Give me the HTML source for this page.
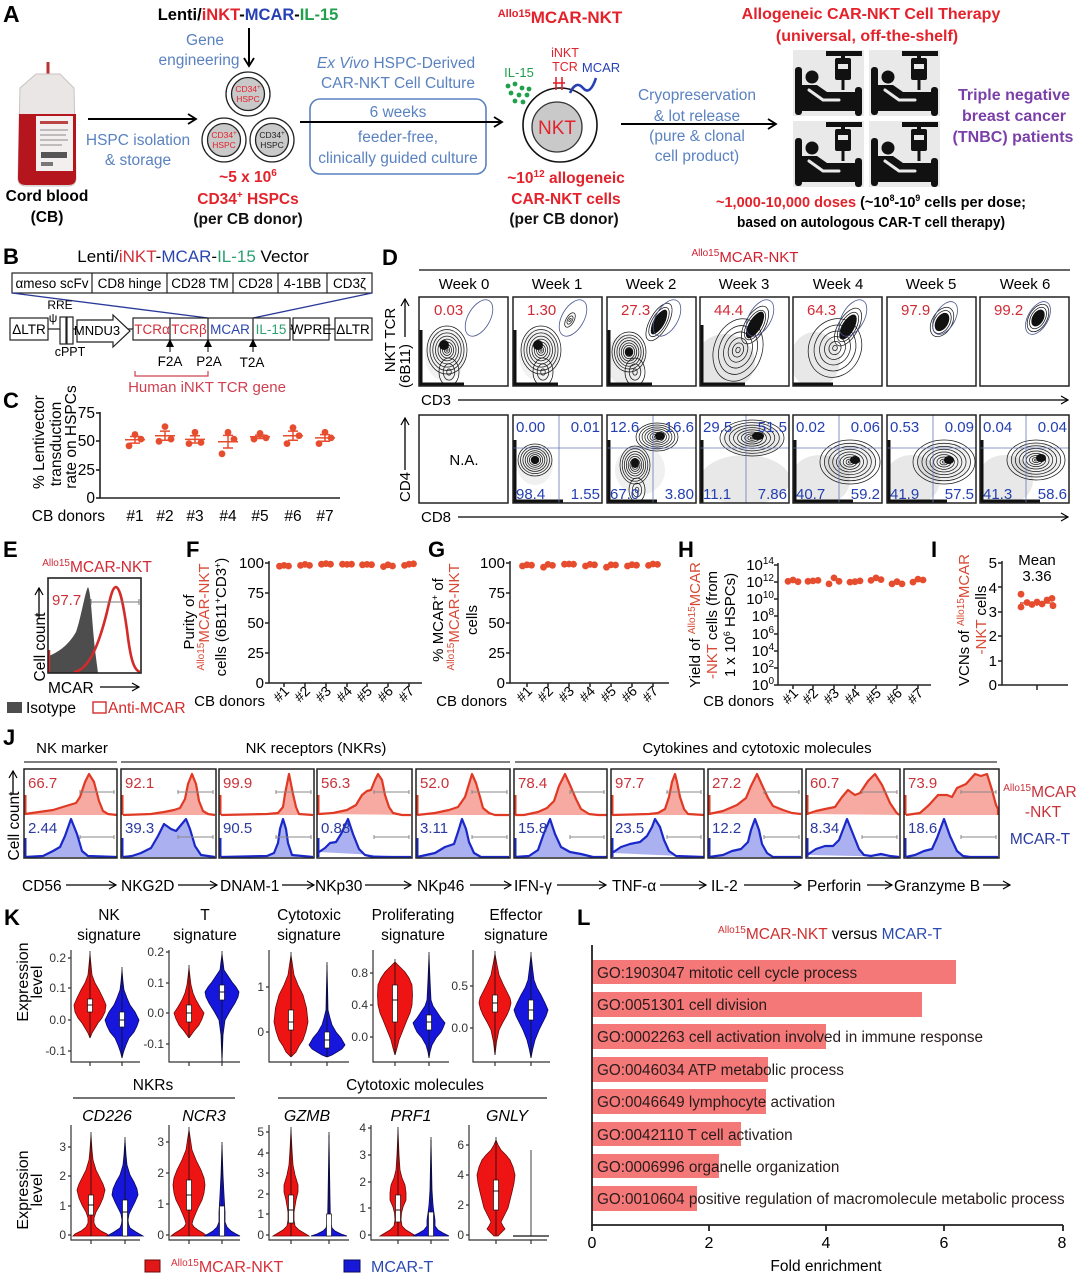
<!DOCTYPE html>
<html><head><meta charset="utf-8"><title>Figure</title>
<style>
html,body{margin:0;padding:0;background:#fff;width:1080px;height:1274px;overflow:hidden}
svg{display:block}
text{font-family:"Liberation Sans",Arial,sans-serif}
.hr{fill:#f6aaa2;stroke:#e03a25;stroke-width:2.2;stroke-linejoin:round}
.hb{fill:#aab0f0;stroke:#1a28c8;stroke-width:2.2;stroke-linejoin:round}
.cc{fill:none;stroke:#1a1a1a;stroke-width:0.75;vector-effect:non-scaling-stroke}
</style></head><body>
<svg id="root" xmlns="http://www.w3.org/2000/svg" width="1080" height="1274" viewBox="0 0 1080 1274">
<defs>
<marker id="ah" markerWidth="12" markerHeight="12" refX="10" refY="6" orient="auto" markerUnits="userSpaceOnUse"><path d="M2,1 L10,6 L2,11" fill="none" stroke="#000" stroke-width="1.8"/></marker>
<marker id="ahs" markerWidth="10" markerHeight="10" refX="8" refY="5" orient="auto" markerUnits="userSpaceOnUse"><path d="M1,1 L8,5 L1,9" fill="none" stroke="#000" stroke-width="1.2"/></marker>
<marker id="ahf" markerWidth="8" markerHeight="8" refX="4" refY="4" orient="auto" markerUnits="userSpaceOnUse"><path d="M0,0 L8,4 L0,8 Z" fill="#000"/></marker>
<g id="pt">
<rect x="0" y="0" width="71" height="66" fill="#e9e9e9"/>
<rect x="33" y="1" width="36" height="5" fill="#111"/>
<rect x="48" y="1" width="4" height="9" fill="#111"/>
<rect x="42" y="8" width="16" height="22" rx="2" fill="#111"/>
<rect x="45" y="14" width="10" height="5" fill="#e9e9e9"/>
<rect x="48.5" y="30" width="3" height="10" fill="#111"/>
<rect x="2" y="17" width="7" height="48" rx="3" fill="#111"/>
<rect x="62" y="37" width="7" height="29" rx="3" fill="#111"/>
<circle cx="19" cy="27" r="6.5" fill="#111"/>
<path d="M9,35 L24,35 L34,42 L62,42 L62,60 L9,60 Z" fill="#111"/>
<path d="M16,40 L30,50 L46,50" stroke="#e9e9e9" stroke-width="3" fill="none" stroke-linecap="round"/>
<rect x="9" y="57" width="53" height="4" fill="#111"/>
</g>
<g id="c9"><circle class="cc" r="0.051"/><circle class="cc" r="0.132"/><circle class="cc" r="0.227"/><circle class="cc" r="0.334"/><circle class="cc" r="0.452"/><circle class="cc" r="0.578"/><circle class="cc" r="0.712"/><circle class="cc" r="0.853"/><circle class="cc" r="1"/></g>
<g id="c6"><circle class="cc" r="0.089"/><circle class="cc" r="0.227"/><circle class="cc" r="0.392"/><circle class="cc" r="0.578"/><circle class="cc" r="0.782"/><circle class="cc" r="1"/></g>
<g id="c3"><circle class="cc" r="0.227"/><circle class="cc" r="0.578"/><circle class="cc" r="1"/></g>
<clipPath id="a0"><rect x="419" y="297" width="89" height="89"/></clipPath>
<clipPath id="a1"><rect x="513" y="297" width="89" height="89"/></clipPath>
<clipPath id="a2"><rect x="607" y="297" width="89" height="89"/></clipPath>
<clipPath id="a3"><rect x="700" y="297" width="89" height="89"/></clipPath>
<clipPath id="a4"><rect x="793" y="297" width="89" height="89"/></clipPath>
<clipPath id="a5"><rect x="887" y="297" width="89" height="89"/></clipPath>
<clipPath id="a6"><rect x="980" y="297" width="89" height="89"/></clipPath>
<clipPath id="b1"><rect x="513" y="415" width="89" height="88"/></clipPath>
<clipPath id="b2"><rect x="607" y="415" width="89" height="88"/></clipPath>
<clipPath id="b3"><rect x="700" y="415" width="89" height="88"/></clipPath>
<clipPath id="b4"><rect x="793" y="415" width="89" height="88"/></clipPath>
<clipPath id="b5"><rect x="887" y="415" width="89" height="88"/></clipPath>
<clipPath id="b6"><rect x="980" y="415" width="89" height="88"/></clipPath>
<polyline id="v1r" points="0,954 1,965 2,975 5,983 9,990 13,998 16,1005 15,1012 12,1018 8,1023 5,1028 2,1033 0,1038"/>
<polyline id="v1b" points="0,970 1,982 2,990 5,998 8,1005 13,1012 17,1020 15,1026 12,1032 7,1038 4,1045 1.5,1052 0,1058"/>
<polyline id="v2r" points="0,968 1,977 2,985 4,993 7,1000 11,1007 15,1013 13,1019 10,1025 5,1031 0,1038"/>
<polyline id="v2b" points="0,954 1,962 2,970 6,976 10,982 14,987 17,992 16,997 13,1003 8,1011 3,1020 1,1035 0,1062"/>
<polyline id="v3r" points="0,955 1.5,965 3,975 7,985 12,995 15.5,1008 17,1022 15,1031 12,1040 8,1046 5,1052 0,1057"/>
<polyline id="v3b" points="0,965 0.6,990 1,1010 3,1018 5,1025 9,1032 14,1038 18,1045 15,1049 10,1052 5,1055 0,1057"/>
<polyline id="v4r" points="0,962 5,967 10,972 14,978 17,985 17.5,995 17,1005 15,1013 12,1020 8,1030 4,1040 2,1048 0,1055"/>
<polyline id="v4b" points="0,955 1,980 2,1000 4,1006 8,1012 12,1018 16,1023 14,1028 12,1032 7,1038 3,1045 1,1052 0,1058"/>
<polyline id="v5r" points="0,954 2,965 4,975 8,984 12,992 15,998 16,1003 14.5,1009 12,1015 8,1022 4,1030 1.5,1042 0,1055"/>
<polyline id="v5b" points="0,955 1.5,968 3,980 6,988 10,995 14,1003 17,1010 15,1016 12,1022 8,1030 4,1040 1.5,1050 0,1058"/>
<polyline id="w1r" points="0,1135 1,1150 2,1160 5,1170 9,1178 12,1184 14,1190 12,1198 9,1205 5,1212 3,1218 3,1223 5,1227 10,1231 16,1234 18,1236 0,1236"/>
<polyline id="w1b" points="0,1140 1,1155 2,1165 5,1175 9,1182 12,1189 13,1195 10,1202 7,1208 4,1214 3,1220 3.5,1224 5,1228 11,1232 18,1236 0,1236"/>
<polyline id="w2r" points="0,1130 1.5,1140 3,1150 7,1160 12,1170 15,1178 16,1185 15,1193 13,1200 9,1208 6,1215 4,1220 3,1224 5,1227 9,1230 14,1233 18,1236 0,1236"/>
<polyline id="w2b" points="0,1145 1,1175 2,1195 3,1212 3,1222 5,1227 9,1231 14,1234 18,1236 0,1236"/>
<polyline id="w3r" points="0,1130 1,1150 2,1165 4,1175 7,1185 7,1192 5,1200 3,1212 3,1220 4,1226 8,1230 13,1233 18,1236 0,1236"/>
<polyline id="w3b" points="0,1135 1,1200 1.5,1222 3,1228 6,1231 12,1234 18,1236 0,1236"/>
<polyline id="w4r" points="0,1130 1,1155 2,1170 4,1178 7,1185 8,1193 8,1200 5,1207 3.5,1213 3,1220 4,1226 8,1230 13,1233 18,1236 0,1236"/>
<polyline id="w4b" points="0,1140 1,1190 2,1205 3,1213 4,1220 4,1226 7,1230 12,1233 18,1236 0,1236"/>
<polyline id="w5r" points="0,1140 2,1145 5,1150 10,1155 14,1160 17,1167 19,1175 18,1183 16,1192 14,1200 12,1208 9,1214 7,1218 5,1222 7,1226 9,1229 6,1232 2,1236 0,1236"/>
</defs>
<rect x="0" y="0" width="1080" height="1274" fill="#fff"/>

<!-- ================= PANEL A ================= -->
<text x="3" y="22" font-size="23" font-weight="bold">A</text>
<text x="248" y="20" font-size="16.5" font-weight="bold" text-anchor="middle">Lenti/<tspan fill="#e3222b">iNKT</tspan>-<tspan fill="#2641b5">MCAR</tspan>-<tspan fill="#20a04c">IL-15</tspan></text>
<line x1="249" y1="28" x2="249" y2="66" stroke="#000" stroke-width="2" marker-end="url(#ah)"/>
<g fill="#5a82c0" font-size="15.5" text-anchor="middle">
<text x="205" y="45">Gene</text>
<text x="199" y="65">engineering</text>
<text x="138" y="145">HSPC isolation</text>
<text x="138" y="165">&amp; storage</text>
<text x="396" y="68"><tspan font-style="italic">Ex Vivo</tspan> HSPC-Derived</text>
<text x="398" y="88">CAR-NKT Cell Culture</text>
<text x="398" y="117">6 weeks</text>
<text x="398" y="142">feeder-free,</text>
<text x="398" y="163">clinically guided culture</text>
<text x="697" y="100">Cryopreservation</text>
<text x="697" y="121">&amp; lot release</text>
<text x="697" y="141">(pure &amp; clonal</text>
<text x="697" y="161">cell product)</text>
</g>
<rect x="310" y="99" width="176" height="75" rx="10" fill="none" stroke="#5a82c0" stroke-width="1.6"/>
<line x1="88" y1="119" x2="196" y2="119" stroke="#000" stroke-width="2" marker-end="url(#ah)"/>
<line x1="300" y1="122" x2="502" y2="122" stroke="#000" stroke-width="2" marker-end="url(#ah)"/>
<line x1="621" y1="124" x2="776" y2="124" stroke="#000" stroke-width="2" marker-end="url(#ah)"/>

<g>
<line x1="48" y1="62" x2="48" y2="74" stroke="#b33" stroke-width="3"/>
<path d="M36,74 L60,74 L74,88 L76,178 Q76,186 68,186 L26,186 Q18,186 18,178 L20,88 Z" fill="#ebe6e6" stroke="#c9c2c2" stroke-width="1"/>
<path d="M19,114 L76,114 L76,178 Q76,185 68,185 L26,185 Q18,185 18,178 Z" fill="#b5161d"/>
<rect x="36" y="116" width="37" height="55" fill="#f3efef"/>
<rect x="40" y="121" width="28" height="3" fill="#b44"/>
<g stroke="#888" stroke-width="1"><line x1="40" y1="130" x2="68" y2="130"/><line x1="40" y1="135" x2="66" y2="135"/><line x1="40" y1="140" x2="68" y2="140"/><line x1="40" y1="145" x2="62" y2="145"/></g>
<rect x="41" y="152" width="26" height="6" fill="#555"/>
<rect x="41" y="162" width="12" height="4" fill="#777"/>
</g>
<text x="47" y="201" font-size="15.5" font-weight="bold" text-anchor="middle">Cord blood</text>
<text x="47" y="222" font-size="15.5" font-weight="bold" text-anchor="middle">(CB)</text>

<g stroke="#222" stroke-width="1.3">
<circle cx="248" cy="94" r="22" fill="#fff"/><circle cx="248" cy="94" r="16.5" fill="#c9c9c9"/>
<circle cx="224" cy="140" r="22" fill="#fff"/><circle cx="224" cy="140" r="16.5" fill="#c9c9c9"/>
<circle cx="272" cy="140" r="22" fill="#fff"/><circle cx="272" cy="140" r="16.5" fill="#c9c9c9"/>
</g>
<g font-size="8.5" text-anchor="middle">
<text x="248" y="92" fill="#e3222b">CD34<tspan font-size="6" dy="-3">+</tspan></text>
<text x="248" y="102" fill="#e3222b">HSPC</text>
<text x="224" y="138" fill="#e3222b">CD34<tspan font-size="6" dy="-3">+</tspan></text>
<text x="224" y="148" fill="#e3222b">HSPC</text>
<text x="272" y="138" fill="#222">CD34<tspan font-size="6" dy="-3">+</tspan></text>
<text x="272" y="148" fill="#222">HSPC</text>
</g>
<g font-size="15.5" font-weight="bold" text-anchor="middle">
<text x="248" y="182" fill="#e3222b">~5 x 10<tspan font-size="10" dy="-6">6</tspan></text>
<text x="248" y="204" fill="#e3222b">CD34<tspan font-size="10" dy="-6">+</tspan><tspan dy="6"> HSPCs</tspan></text>
<text x="248" y="224" fill="#111">(per CB donor)</text>
<text x="566" y="183" fill="#e3222b">~10<tspan font-size="10" dy="-6">12</tspan><tspan dy="6"> allogeneic</tspan></text>
<text x="566" y="204" fill="#e3222b">CAR-NKT cells</text>
<text x="564" y="224" fill="#111">(per CB donor)</text>
</g>

<text x="560" y="23" font-weight="bold" fill="#e3222b" text-anchor="middle"><tspan font-size="11" dy="-6">Allo15</tspan><tspan font-size="17" dy="6">MCAR-NKT</tspan></text>
<text x="519" y="77" font-size="13" fill="#20a04c" text-anchor="middle">IL-15</text>
<g fill="#20a04c">
<circle cx="508" cy="86" r="2.4"/><circle cx="515" cy="84" r="2.4"/><circle cx="522" cy="88" r="2.4"/><circle cx="511" cy="93" r="2.4"/><circle cx="519" cy="95" r="2.4"/><circle cx="527" cy="95" r="2.4"/><circle cx="515" cy="101" r="2.4"/><circle cx="523" cy="102" r="2.4"/><circle cx="529" cy="89" r="2.4"/>
</g>
<circle cx="560" cy="125" r="37" fill="#fff" stroke="#111" stroke-width="1.6"/>
<circle cx="557" cy="127" r="25" fill="#c9c9c9" stroke="#333" stroke-width="1.3"/>
<text x="557" y="134" font-size="19" fill="#e3222b" text-anchor="middle">NKT</text>
<text x="565" y="57" font-size="12.5" fill="#e3222b" text-anchor="middle">iNKT</text>
<text x="565" y="71" font-size="12.5" fill="#e3222b" text-anchor="middle">TCR</text>
<g stroke="#e3222b" stroke-width="1.6"><line x1="556" y1="77" x2="556" y2="90"/><line x1="562" y1="77" x2="562" y2="90"/><line x1="553" y1="83" x2="565" y2="83"/></g>
<text x="601" y="72" font-size="13" fill="#2641b5" text-anchor="middle">MCAR</text>
<path d="M570,93 Q576,80 583,88 T596,78" fill="none" stroke="#2641b5" stroke-width="2.6"/>

<text x="871" y="19" font-size="16" font-weight="bold" fill="#e3222b" text-anchor="middle">Allogeneic CAR-NKT Cell Therapy</text>
<text x="867" y="41" font-size="16" font-weight="bold" fill="#e3222b" text-anchor="middle">(universal, off-the-shelf)</text>
<use href="#pt" x="793" y="50"/><use href="#pt" x="869" y="50"/>
<use href="#pt" x="793" y="121"/><use href="#pt" x="869" y="121"/>
<g font-size="16" font-weight="bold" fill="#7a3fa8" text-anchor="middle">
<text x="1014" y="100">Triple negative</text>
<text x="1014" y="121">breast cancer</text>
<text x="1013" y="142">(TNBC) patients</text>
</g>
<text x="871" y="207" font-size="15" font-weight="bold" text-anchor="middle" textLength="310" lengthAdjust="spacingAndGlyphs"><tspan fill="#e3222b">~1,000-10,000 doses</tspan> (~10<tspan font-size="9" dy="-6">8</tspan><tspan dy="6">-10</tspan><tspan font-size="9" dy="-6">9</tspan><tspan dy="6"> cells per dose;</tspan></text>
<text x="871" y="227" font-size="15" font-weight="bold" text-anchor="middle" textLength="268" lengthAdjust="spacingAndGlyphs">based on autologous CAR-T cell therapy)</text>

<!-- ================= PANEL B ================= -->
<text x="3" y="264" font-size="22" font-weight="bold">B</text>
<text x="193" y="262" font-size="17" text-anchor="middle">Lenti/<tspan fill="#d0303a">iNKT</tspan>-<tspan fill="#2a45b0">MCAR</tspan>-<tspan fill="#2aa070">IL-15</tspan> Vector</text>
<g fill="none" stroke="#222" stroke-width="1.2">
<rect x="12" y="273" width="360" height="20"/>
<line x1="92" y1="273" x2="92" y2="293"/><line x1="167" y1="273" x2="167" y2="293"/><line x1="233" y1="273" x2="233" y2="293"/><line x1="278" y1="273" x2="278" y2="293"/><line x1="327" y1="273" x2="327" y2="293"/>
</g>
<g font-size="13.5" text-anchor="middle">
<text x="52" y="288">αmeso scFv</text><text x="129.5" y="288">CD8 hinge</text><text x="200" y="288">CD28 TM</text><text x="255.5" y="288">CD28</text><text x="302.5" y="288">4-1BB</text><text x="349.5" y="288">CD3ζ</text>
</g>
<g stroke="#2a3a9a" stroke-width="1.3"><line x1="12" y1="293" x2="208" y2="318"/><line x1="372" y1="293" x2="253" y2="318"/></g>
<g fill="#fff" stroke="#222" stroke-width="1.2">
<line x1="48" y1="329" x2="335" y2="329"/>
<rect x="10" y="318" width="38" height="22"/>
<rect x="60" y="317" width="6" height="27"/><rect x="67" y="317" width="6" height="27"/>
<polygon points="77,320 113,320 113,315 130,331 113,347 113,342 77,342"/>
<rect x="133" y="318" width="157" height="22"/>
<line x1="170" y1="318" x2="170" y2="340"/><line x1="208" y1="318" x2="208" y2="340"/><line x1="253" y1="318" x2="253" y2="340"/>
<rect x="293" y="318" width="36" height="22"/>
<rect x="335" y="318" width="37" height="22"/>
</g>
<g font-size="13.5" text-anchor="middle">
<text x="29" y="334">ΔLTR</text>
<text x="60" y="309" font-size="12">RRE</text>
<text x="53" y="322" font-size="12">ψ</text>
<text x="70" y="356" font-size="12.5">cPPT</text>
<text x="97" y="335" font-size="13">MNDU3</text>
<text x="152" y="334" fill="#d0303a">TCRα</text>
<text x="189" y="334" fill="#d0303a">TCRβ</text>
<text x="230" y="334" fill="#2a45b0">MCAR</text>
<text x="271" y="334" fill="#2aa070">IL-15</text>
<text x="311" y="334">WPRE</text>
<text x="353" y="334">ΔLTR</text>
<text x="170" y="366">F2A</text>
<text x="209" y="366">P2A</text>
<text x="252" y="367">T2A</text>
</g>
<g stroke="#000" stroke-width="1"><line x1="170" y1="352" x2="170" y2="343" marker-end="url(#ahf)"/><line x1="208" y1="352" x2="208" y2="343" marker-end="url(#ahf)"/><line x1="253" y1="352" x2="253" y2="343" marker-end="url(#ahf)"/></g>
<path d="M135,371 L135,376 L208,376 L208,371" fill="none" stroke="#d04050" stroke-width="1.2"/>
<text x="207" y="392" font-size="15" fill="#d04050" text-anchor="middle">Human iNKT TCR gene</text>

<!-- ================= PANEL C ================= -->
<text x="3" y="408" font-size="22" font-weight="bold">C</text>
<g font-size="15.5" text-anchor="middle">
<text transform="translate(44,442) rotate(-90)">% Lentivector</text>
<text transform="translate(61,444) rotate(-90)">transduction</text>
<text transform="translate(76,437) rotate(-90)">rate on HSPCs</text>
</g>
<g stroke="#222" stroke-width="1.6" fill="none">
<path d="M100,412 L100,498 L340,498"/>
<line x1="96" y1="413" x2="100" y2="413"/><line x1="96" y1="441" x2="100" y2="441"/><line x1="96" y1="470" x2="100" y2="470"/><line x1="96" y1="498" x2="100" y2="498"/>
</g>
<g font-size="15.5" text-anchor="end">
<text x="95" y="418">75</text><text x="95" y="446">50</text><text x="95" y="475">25</text><text x="95" y="503">0</text>
</g>
<g font-size="15.5" text-anchor="middle">
<text x="135" y="521">#1</text><text x="165" y="521">#2</text><text x="195" y="521">#3</text><text x="228" y="521">#4</text><text x="260" y="521">#5</text><text x="293" y="521">#6</text><text x="325" y="521">#7</text>
</g>
<text x="105" y="521" font-size="15.5" text-anchor="end">CB donors</text>
<g fill="#e64c2e">
<circle cx="129" cy="445.9" r="3.4"/><circle cx="135" cy="434.5" r="3.4"/><circle cx="141" cy="439.1" r="3.4"/>
<circle cx="159" cy="441.3" r="3.4"/><circle cx="165" cy="426.6" r="3.4"/><circle cx="171" cy="439.1" r="3.4"/>
<circle cx="189" cy="443.6" r="3.4"/><circle cx="195" cy="432.3" r="3.4"/><circle cx="201" cy="442.5" r="3.4"/>
<circle cx="222" cy="453.8" r="3.4"/><circle cx="228" cy="432.3" r="3.4"/><circle cx="234" cy="439.1" r="3.4"/>
<circle cx="254" cy="439.1" r="3.4"/><circle cx="260" cy="433.4" r="3.4"/><circle cx="266" cy="437.9" r="3.4"/>
<circle cx="287" cy="443.6" r="3.4"/><circle cx="293" cy="427.7" r="3.4"/><circle cx="299" cy="435.7" r="3.4"/>
<circle cx="319" cy="443.6" r="3.4"/><circle cx="325" cy="432.3" r="3.4"/><circle cx="331" cy="437.9" r="3.4"/>
</g>
<path stroke="#e64c2e" stroke-width="1.5" fill="none" d="M125,439.8h20 M135,436.5v6.6 M130,436.5h10 M130,443.1h10 M155,435.7h20 M165,431.1v9.2 M160,431.1h10 M160,440.3h10 M185,439.4h20 M195,435.8v7.2 M190,435.8h10 M190,443h10 M218,441.7h20 M228,435.4v12.6 M223,435.4h10 M223,448h10 M250,436.8h20 M260,435.1v3.4 M255,435.1h10 M255,438.5h10 M283,435.7h20 M293,431.1v9.2 M288,431.1h10 M288,440.3h10 M315,437.9h20 M325,434.6v6.6 M320,434.6h10 M320,441.2h10"/>

<!-- ================= PANEL D ================= -->
<text x="382" y="265" font-size="22" font-weight="bold">D</text>
<text x="745" y="262" fill="#d02030" text-anchor="middle"><tspan font-size="10" dy="-6">Allo15</tspan><tspan font-size="15" dy="6">MCAR-NKT</tspan></text>
<line x1="419" y1="270" x2="1070" y2="270" stroke="#333" stroke-width="1.5"/>
<g font-size="15" text-anchor="middle">
<text x="464" y="289">Week 0</text><text x="557" y="289">Week 1</text><text x="651" y="289">Week 2</text><text x="744" y="289">Week 3</text><text x="838" y="289">Week 4</text><text x="931" y="289">Week 5</text><text x="1025" y="289">Week 6</text>
</g>
<g clip-path="url(#a0)">
<ellipse cx="445" cy="355" rx="20" ry="26" fill="#000" fill-opacity="0.05"/>
<use href="#c9" transform="translate(447,350) scale(20,24)"/>
<use href="#c3" transform="translate(449,372) scale(10,14)"/>
<ellipse cx="444" cy="345" rx="5" ry="5" fill="#111"/>
<rect x="419" y="330" width="3.5" height="56" fill="#111"/><rect x="419" y="382.5" width="45" height="3.5" fill="#111"/>
<ellipse cx="479" cy="318" rx="11" ry="20" transform="rotate(30 479 318)" fill="none" stroke="#4a5590" stroke-width="0.8"/>
</g>
<g clip-path="url(#a1)">
<ellipse cx="539" cy="355" rx="20" ry="26" fill="#000" fill-opacity="0.05"/>
<use href="#c9" transform="translate(541,350) scale(20,24)"/>
<use href="#c3" transform="translate(543,372) scale(10,14)"/>
<ellipse cx="538" cy="345" rx="5" ry="5" fill="#111"/>
<use href="#c3" transform="translate(570,320) rotate(30) scale(4,8)"/>
<rect x="513" y="330" width="3.5" height="56" fill="#111"/><rect x="513" y="382.5" width="45" height="3.5" fill="#111"/>
<ellipse cx="573" cy="318" rx="11" ry="20" transform="rotate(30 573 318)" fill="none" stroke="#4a5590" stroke-width="0.8"/>
</g>
<g clip-path="url(#a2)">
<ellipse cx="625" cy="360" rx="20" ry="25" fill="#000" fill-opacity="0.07"/>
<use href="#c9" transform="translate(629,352) scale(17,20)"/>
<ellipse cx="629" cy="352" rx="4" ry="4" fill="#111"/>
<use href="#c6" transform="translate(659,322) rotate(30) scale(9,21)"/>
<ellipse cx="659" cy="322" rx="5" ry="14" transform="rotate(30 659 322)" fill="#111"/>
<use href="#c3" transform="translate(635,372) scale(10,14)"/>
<rect x="607" y="330" width="3.5" height="56" fill="#111"/><rect x="607" y="382.5" width="45" height="3.5" fill="#111"/>
<ellipse cx="667" cy="318" rx="11" ry="20" transform="rotate(30 667 318)" fill="none" stroke="#4a5590" stroke-width="0.8"/>
</g>
<g clip-path="url(#a3)">
<ellipse cx="725" cy="362" rx="30" ry="28" fill="#000" fill-opacity="0.1"/>
<use href="#c6" transform="translate(738,350) rotate(20) scale(24,32)"/>
<use href="#c6" transform="translate(755,325) rotate(30) scale(10,21)"/>
<ellipse cx="755" cy="325" rx="6" ry="15" transform="rotate(30 755 325)" fill="#111"/>
<rect x="700" y="325" width="3.5" height="61" fill="#111"/><rect x="700" y="382.5" width="45" height="3.5" fill="#111"/>
<ellipse cx="760" cy="318" rx="11" ry="20" transform="rotate(30 760 318)" fill="none" stroke="#4a5590" stroke-width="0.8"/>
</g>
<g clip-path="url(#a4)">
<ellipse cx="815" cy="360" rx="25" ry="28" fill="#000" fill-opacity="0.09"/>
<use href="#c6" transform="translate(835,348) rotate(25) scale(26,30)"/>
<use href="#c6" transform="translate(848,327) rotate(30) scale(10,21)"/>
<ellipse cx="848" cy="327" rx="6" ry="14" transform="rotate(30 848 327)" fill="#111"/>
<rect x="793" y="382.5" width="40" height="3.5" fill="#111"/>
<ellipse cx="853" cy="318" rx="11" ry="20" transform="rotate(30 853 318)" fill="none" stroke="#4a5590" stroke-width="0.8"/>
</g>
<g clip-path="url(#a5)">
<use href="#c6" transform="translate(942,322) rotate(30) scale(10,16)"/>
<ellipse cx="942" cy="322" rx="6" ry="10" transform="rotate(30 942 322)" fill="#111"/>
<ellipse cx="945" cy="318" rx="10" ry="18" transform="rotate(30 945 318)" fill="none" stroke="#4a5590" stroke-width="0.8"/>
</g>
<g clip-path="url(#a6)">
<use href="#c6" transform="translate(1038,318) rotate(30) scale(9,15)"/>
<ellipse cx="1038" cy="318" rx="5.5" ry="9" transform="rotate(30 1038 318)" fill="#111"/>
<ellipse cx="1038" cy="318" rx="10" ry="18" transform="rotate(30 1038 318)" fill="none" stroke="#4a5590" stroke-width="0.8"/>
</g>
<g clip-path="url(#b1)">
<ellipse cx="535" cy="465" rx="18" ry="20" fill="#000" fill-opacity="0.06"/>
<use href="#c9" transform="translate(535,460) scale(17,16)"/>
<ellipse cx="535" cy="460" rx="4" ry="4" fill="#111"/>
<rect x="513" y="440" width="3.5" height="63" fill="#111"/><rect x="513" y="499.5" width="50" height="3.5" fill="#111"/>
</g>
<g clip-path="url(#b2)">
<ellipse cx="640" cy="470" rx="25" ry="25" fill="#000" fill-opacity="0.06"/>
<use href="#c9" transform="translate(657,437) scale(21,14)"/>
<ellipse cx="660" cy="436" rx="5" ry="4" fill="#111"/>
<use href="#c9" transform="translate(635,465) scale(15,19)"/>
<ellipse cx="635" cy="463" rx="4" ry="5" fill="#111"/>
<use href="#c3" transform="translate(637,490) scale(8,12)"/>
<rect x="607" y="440" width="3.5" height="63" fill="#111"/><rect x="607" y="499.5" width="50" height="3.5" fill="#111"/>
</g>
<g clip-path="url(#b3)">
<ellipse cx="745" cy="480" rx="45" ry="25" fill="#000" fill-opacity="0.09"/>
<ellipse cx="752" cy="440" rx="30" ry="16" fill="#000" fill-opacity="0.08"/>
<use href="#c9" transform="translate(752,438) scale(32,18)"/>
<ellipse cx="758" cy="436" rx="6" ry="4" fill="#111"/>
<rect x="700" y="440" width="3.5" height="63" fill="#111"/>
</g>
<g clip-path="url(#b4)">
<ellipse cx="820" cy="480" rx="30" ry="25" fill="#000" fill-opacity="0.09"/>
<ellipse cx="850" cy="462" rx="26" ry="20" fill="#000" fill-opacity="0.06"/>
<use href="#c9" transform="translate(850,462) scale(30,22)"/>
<ellipse cx="855" cy="460" rx="5" ry="4" fill="#111"/>
<rect x="793" y="440" width="3.5" height="63" fill="#111"/><rect x="793" y="499.5" width="60" height="3.5" fill="#111"/>
</g>
<g clip-path="url(#b5)">
<ellipse cx="912" cy="480" rx="28" ry="25" fill="#000" fill-opacity="0.09"/>
<ellipse cx="944" cy="462" rx="27" ry="20" fill="#000" fill-opacity="0.06"/>
<use href="#c9" transform="translate(944,462) scale(31,22)"/>
<ellipse cx="949" cy="460" rx="5" ry="4" fill="#111"/>
<rect x="887" y="440" width="3.5" height="63" fill="#111"/><rect x="887" y="499.5" width="60" height="3.5" fill="#111"/>
</g>
<g clip-path="url(#b6)">
<ellipse cx="1005" cy="480" rx="28" ry="25" fill="#000" fill-opacity="0.09"/>
<ellipse cx="1036" cy="460" rx="25" ry="18" fill="#000" fill-opacity="0.06"/>
<use href="#c9" transform="translate(1036,460) scale(29,20)"/>
<ellipse cx="1041" cy="458" rx="5" ry="4" fill="#111"/>
<rect x="980" y="440" width="3.5" height="63" fill="#111"/><rect x="980" y="499.5" width="60" height="3.5" fill="#111"/>
</g>
<g stroke="#6a78b8" stroke-width="0.8">
<path d="M559,415V503M513,448H602 M653,415V503M607,448H696 M746,415V503M700,448H789 M839,415V503M793,448H882 M933,415V503M887,448H976 M1026,415V503M980,448H1069"/>
</g>
<g fill="none" stroke="#222" stroke-width="1.5">
<rect x="419" y="297" width="89" height="89"/><rect x="513" y="297" width="89" height="89"/><rect x="607" y="297" width="89" height="89"/><rect x="700" y="297" width="89" height="89"/><rect x="793" y="297" width="89" height="89"/><rect x="887" y="297" width="89" height="89"/><rect x="980" y="297" width="89" height="89"/>
<rect x="419" y="415" width="89" height="88"/><rect x="513" y="415" width="89" height="88"/><rect x="607" y="415" width="89" height="88"/><rect x="700" y="415" width="89" height="88"/><rect x="793" y="415" width="89" height="88"/><rect x="887" y="415" width="89" height="88"/><rect x="980" y="415" width="89" height="88"/>
</g>
<g font-size="15" fill="#d02a35">
<text x="434" y="315">0.03</text><text x="527" y="315">1.30</text><text x="621" y="315">27.3</text><text x="714" y="315">44.4</text><text x="807" y="315">64.3</text><text x="901" y="315">97.9</text><text x="994" y="315">99.2</text>
</g>
<text x="464" y="465" font-size="15" text-anchor="middle">N.A.</text>
<g font-size="15" fill="#2440b0">
<text x="516" y="432">0.00</text><text x="600" y="432" text-anchor="end">0.01</text><text x="516" y="499">98.4</text><text x="600" y="499" text-anchor="end">1.55</text>
<text x="610" y="432">12.6</text><text x="694" y="432" text-anchor="end">16.6</text><text x="610" y="499">67.0</text><text x="694" y="499" text-anchor="end">3.80</text>
<text x="703" y="432">29.5</text><text x="787" y="432" text-anchor="end">51.5</text><text x="703" y="499">11.1</text><text x="787" y="499" text-anchor="end">7.86</text>
<text x="796" y="432">0.02</text><text x="880" y="432" text-anchor="end">0.06</text><text x="796" y="499">40.7</text><text x="880" y="499" text-anchor="end">59.2</text>
<text x="890" y="432">0.53</text><text x="974" y="432" text-anchor="end">0.09</text><text x="890" y="499">41.9</text><text x="974" y="499" text-anchor="end">57.5</text>
<text x="983" y="432">0.04</text><text x="1067" y="432" text-anchor="end">0.04</text><text x="983" y="499">41.3</text><text x="1067" y="499" text-anchor="end">58.6</text>
</g>
<g font-size="15">
<text transform="translate(395,340) rotate(-90)" text-anchor="middle">NKT TCR</text>
<text transform="translate(410,366) rotate(-90)" text-anchor="middle">(6B11)</text>
<text transform="translate(410,487) rotate(-90)" text-anchor="middle">CD4</text>
<text x="421" y="405">CD3</text>
<text x="421" y="522">CD8</text>
</g>
<g stroke="#000" stroke-width="1.3">
<line x1="405" y1="337" x2="405" y2="299" marker-end="url(#ahs)"/>
<line x1="405" y1="470" x2="405" y2="418" marker-end="url(#ahs)"/>
<line x1="458" y1="400" x2="1068" y2="400" marker-end="url(#ahs)"/>
<line x1="458" y1="517" x2="1068" y2="517" marker-end="url(#ahs)"/>
</g>

<!-- ================= PANEL E ================= -->
<text x="3" y="557" font-size="22" font-weight="bold">E</text>
<text x="97" y="572" fill="#d02a35" text-anchor="middle"><tspan font-size="10" dy="-6">Allo15</tspan><tspan font-size="15.5" dy="6">MCAR-NKT</tspan></text>
<path d="M49,673 L49,656 C58,652 68,646 76,632 C81,618 85,592 88,587 C91,592 92,622 95,650 L98,673 Z" fill="#4d4d4d"/>
<path d="M49,650 L49,673" stroke="#d42a2a" stroke-width="2.5"/>
<path d="M74,672 C90,670 100,640 107,612 C111,594 113,587 116,587 C120,588 123,602 127,630 C130,655 133,670 140,672" fill="none" stroke="#d42a2a" stroke-width="2.6"/>
<path d="M91,602 L139,602 M91,599 L91,605 M139,599 L139,605" stroke="#777" stroke-width="1"/>
<rect x="48" y="578" width="93" height="95" fill="none" stroke="#222" stroke-width="1.6"/>
<text x="52" y="605" font-size="15" fill="#c8323a">97.7</text>
<text transform="translate(45,647) rotate(-90)" font-size="15.5" text-anchor="middle">Cell count</text>
<line x1="39" y1="619" x2="39" y2="588" stroke="#000" stroke-width="1.3" marker-end="url(#ahs)"/>
<text x="48" y="693" font-size="15.5">MCAR</text>
<line x1="100" y1="687" x2="139" y2="687" stroke="#000" stroke-width="1.3" marker-end="url(#ahs)"/>
<rect x="7" y="702" width="15" height="11" fill="#4d4d4d"/>
<text x="26" y="713" font-size="15.5">Isotype</text>
<rect x="93" y="702" width="13" height="11" fill="none" stroke="#d42a2a" stroke-width="1.4"/>
<text x="108" y="713" font-size="15.5" fill="#d42a2a">Anti-MCAR</text>

<!-- ================= PANEL F ================= -->
<text x="186" y="557" font-size="22" font-weight="bold">F</text>
<g font-size="15" text-anchor="middle">
<text transform="translate(194,622) rotate(-90)">Purity of</text>
<text transform="translate(209,617) rotate(-90)" fill="#d84a35"><tspan font-size="10" dy="-5">Allo15</tspan><tspan dy="5">MCAR-NKT</tspan></text>
<text transform="translate(226,617) rotate(-90)">cells (6B11<tspan font-size="9" dy="-5">+</tspan><tspan dy="5">CD3</tspan><tspan font-size="9" dy="-5">+</tspan><tspan dy="5">)</tspan></text>
</g>
<g font-size="15" text-anchor="end">
<text x="264" y="568">100</text><text x="264" y="598">75</text><text x="264" y="628">50</text><text x="264" y="658">25</text><text x="264" y="688">0</text>
<text x="265" y="706">CB donors</text>
</g>
<g stroke="#222" stroke-width="1.5" fill="none">
<path d="M269,561 L269,683 L422,683"/>
<path d="M265,563h4M265,593h4M265,623h4M265,653h4M265,683h4"/>
<path d="M284,683v4M305,683v4M326,683v4M347,683v4M367,683v4M388,683v4M409,683v4"/>
</g>
<g font-size="14" text-anchor="end">
<text transform="translate(290,692) rotate(-45)">#1</text><text transform="translate(311,692) rotate(-45)">#2</text><text transform="translate(332,692) rotate(-45)">#3</text><text transform="translate(353,692) rotate(-45)">#4</text><text transform="translate(373,692) rotate(-45)">#5</text><text transform="translate(394,692) rotate(-45)">#6</text><text transform="translate(415,692) rotate(-45)">#7</text>
</g>
<g fill="#e64c2e">
<circle cx="279.5" cy="566.2" r="3.4"/><circle cx="284" cy="565.4" r="3.4"/><circle cx="288.5" cy="566" r="3.4"/>
<circle cx="300.5" cy="565.4" r="3.4"/><circle cx="305" cy="564.4" r="3.4"/><circle cx="309.5" cy="565.4" r="3.4"/>
<circle cx="321.5" cy="564.2" r="3.4"/><circle cx="326" cy="563.6" r="3.4"/><circle cx="330.5" cy="564.2" r="3.4"/>
<circle cx="342.5" cy="564.2" r="3.4"/><circle cx="347" cy="564.4" r="3.4"/><circle cx="351.5" cy="564.2" r="3.4"/>
<circle cx="362.5" cy="564.8" r="3.4"/><circle cx="367" cy="564.4" r="3.4"/><circle cx="371.5" cy="564.7" r="3.4"/>
<circle cx="383.5" cy="566.6" r="3.4"/><circle cx="388" cy="564.8" r="3.4"/><circle cx="392.5" cy="566" r="3.4"/>
<circle cx="404.5" cy="565.4" r="3.4"/><circle cx="409" cy="564.2" r="3.4"/><circle cx="413.5" cy="563.8" r="3.4"/>
</g>

<!-- ================= PANEL G ================= -->
<text x="428" y="557" font-size="22" font-weight="bold">G</text>
<g font-size="15" text-anchor="middle">
<text transform="translate(443,620) rotate(-90)">% MCAR<tspan font-size="9" dy="-5">+</tspan><tspan dy="5"> of</tspan></text>
<text transform="translate(459,617) rotate(-90)" fill="#d84a35"><tspan font-size="10" dy="-5">Allo15</tspan><tspan dy="5">MCAR-NKT</tspan></text>
<text transform="translate(477,620) rotate(-90)">cells</text>
</g>
<g font-size="15" text-anchor="end">
<text x="505" y="568">100</text><text x="505" y="598">75</text><text x="505" y="628">50</text><text x="505" y="658">25</text><text x="505" y="688">0</text>
<text x="507" y="706">CB donors</text>
</g>
<g stroke="#222" stroke-width="1.5" fill="none">
<path d="M510,561 L510,683 L669,683"/>
<path d="M506,563h4M506,593h4M506,623h4M506,653h4M506,683h4"/>
<path d="M527,683v4M548,683v4M569,683v4M590,683v4M611,683v4M632,683v4M653,683v4"/>
</g>
<g font-size="14" text-anchor="end">
<text transform="translate(533,692) rotate(-45)">#1</text><text transform="translate(554,692) rotate(-45)">#2</text><text transform="translate(575,692) rotate(-45)">#3</text><text transform="translate(596,692) rotate(-45)">#4</text><text transform="translate(617,692) rotate(-45)">#5</text><text transform="translate(638,692) rotate(-45)">#6</text><text transform="translate(659,692) rotate(-45)">#7</text>
</g>
<g fill="#e64c2e">
<circle cx="522.5" cy="566" r="3.4"/><circle cx="527" cy="564.8" r="3.4"/><circle cx="531.5" cy="565.2" r="3.4"/>
<circle cx="543.5" cy="567.2" r="3.4"/><circle cx="548" cy="564.4" r="3.4"/><circle cx="552.5" cy="565.4" r="3.4"/>
<circle cx="564.5" cy="564.2" r="3.4"/><circle cx="569" cy="564" r="3.4"/><circle cx="573.5" cy="564.2" r="3.4"/>
<circle cx="585.5" cy="566" r="3.4"/><circle cx="590" cy="564.4" r="3.4"/><circle cx="594.5" cy="564.8" r="3.4"/>
<circle cx="606.5" cy="567.2" r="3.4"/><circle cx="611" cy="564.8" r="3.4"/><circle cx="615.5" cy="565" r="3.4"/>
<circle cx="627.5" cy="566" r="3.4"/><circle cx="632" cy="564.7" r="3.4"/><circle cx="636.5" cy="565.2" r="3.4"/>
<circle cx="648.5" cy="565.4" r="3.4"/><circle cx="653" cy="564" r="3.4"/><circle cx="657.5" cy="564.4" r="3.4"/>
</g>

<!-- ================= PANEL H ================= -->
<text x="678" y="557" font-size="22" font-weight="bold">H</text>
<g font-size="15" text-anchor="middle">
<text transform="translate(700,625) rotate(-90)">Yield of <tspan fill="#d84a35" font-size="10" dy="-5">Allo15</tspan><tspan fill="#d84a35" dy="5">MCAR</tspan></text>
<text transform="translate(717,625) rotate(-90)"><tspan fill="#d84a35">-NKT</tspan> cells (from</text>
<text transform="translate(735,625) rotate(-90)">1 x 10<tspan font-size="9" dy="-5">6</tspan><tspan dy="5"> HSPCs)</tspan></text>
</g>
<g font-size="15" text-anchor="end">
<text x="774" y="570">10<tspan font-size="10" dy="-6">14</tspan></text>
<text x="774" y="587">10<tspan font-size="10" dy="-6">12</tspan></text>
<text x="774" y="604">10<tspan font-size="10" dy="-6">10</tspan></text>
<text x="774" y="621">10<tspan font-size="10" dy="-6">8</tspan></text>
<text x="774" y="639">10<tspan font-size="10" dy="-6">6</tspan></text>
<text x="774" y="656">10<tspan font-size="10" dy="-6">4</tspan></text>
<text x="774" y="673">10<tspan font-size="10" dy="-6">2</tspan></text>
<text x="774" y="690">10<tspan font-size="10" dy="-6">0</tspan></text>
<text x="774" y="706">CB donors</text>
</g>
<g stroke="#222" stroke-width="1.5" fill="none">
<path d="M778,563 L778,685 L931,685"/>
<path d="M774,565h4M774,582h4M774,599h4M774,616h4M774,634h4M774,651h4M774,668h4M774,685h4"/>
<path d="M793,685v4M813,685v4M834,685v4M855,685v4M876,685v4M897,685v4M918,685v4"/>
</g>
<g font-size="14" text-anchor="end">
<text transform="translate(799,694) rotate(-45)">#1</text><text transform="translate(819,694) rotate(-45)">#2</text><text transform="translate(840,694) rotate(-45)">#3</text><text transform="translate(861,694) rotate(-45)">#4</text><text transform="translate(882,694) rotate(-45)">#5</text><text transform="translate(903,694) rotate(-45)">#6</text><text transform="translate(924,694) rotate(-45)">#7</text>
</g>
<g fill="#e64c2e">
<circle cx="788" cy="581.3" r="3.4"/><circle cx="793" cy="580" r="3.4"/><circle cx="798" cy="581.7" r="3.4"/>
<circle cx="808" cy="581.3" r="3.4"/><circle cx="813" cy="580.9" r="3.4"/><circle cx="818" cy="580.4" r="3.4"/>
<circle cx="829" cy="583.9" r="3.4"/><circle cx="834" cy="577.9" r="3.4"/><circle cx="839" cy="581.3" r="3.4"/>
<circle cx="850" cy="582.1" r="3.4"/><circle cx="855" cy="581.7" r="3.4"/><circle cx="860" cy="580.9" r="3.4"/>
<circle cx="871" cy="580.4" r="3.4"/><circle cx="876" cy="577.9" r="3.4"/><circle cx="881" cy="579.6" r="3.4"/>
<circle cx="892" cy="583.9" r="3.4"/><circle cx="897" cy="581.7" r="3.4"/><circle cx="902" cy="583.9" r="3.4"/>
<circle cx="913" cy="582.1" r="3.4"/><circle cx="918" cy="579.1" r="3.4"/><circle cx="923" cy="580" r="3.4"/>
</g>

<!-- ================= PANEL I ================= -->
<text x="931" y="557" font-size="22" font-weight="bold">I</text>
<g font-size="15" text-anchor="middle">
<text transform="translate(969,620) rotate(-90)">VCNs of <tspan fill="#d84a35" font-size="10" dy="-5">Allo15</tspan><tspan fill="#d84a35" dy="5">MCAR</tspan></text>
<text transform="translate(986,620) rotate(-90)"><tspan fill="#d84a35">-NKT</tspan> cells</text>
</g>
<g font-size="15" text-anchor="end">
<text x="997" y="568">5</text><text x="997" y="593">4</text><text x="997" y="617">3</text><text x="997" y="641">2</text><text x="997" y="666">1</text><text x="997" y="690">0</text>
</g>
<g stroke="#222" stroke-width="1.5" fill="none">
<path d="M1002,561 L1002,685 L1068,685"/>
<path d="M998,563h4M998,587h4M998,612h4M998,636h4M998,661h4M998,685h4"/>
<path d="M1037,685v5"/>
</g>
<text x="1037" y="565" font-size="15" text-anchor="middle">Mean</text>
<text x="1037" y="581" font-size="15" text-anchor="middle">3.36</text>
<g fill="#e64c2e">
<circle cx="1021" cy="594.2" r="3.4"/><circle cx="1021" cy="607" r="3.4"/><circle cx="1027" cy="602.5" r="3.4"/><circle cx="1032" cy="604.5" r="3.4"/><circle cx="1037" cy="602" r="3.4"/><circle cx="1042" cy="604" r="3.4"/><circle cx="1047" cy="600" r="3.4"/><circle cx="1052" cy="598.4" r="3.4"/><circle cx="1053" cy="605.7" r="3.4"/>
</g>
<path d="M1020,603H1054M1037,600V606" stroke="#e64c2e" stroke-width="1.6" fill="none"/>

<!-- ================= PANEL J ================= -->
<text x="3" y="745" font-size="22" font-weight="bold">J</text>
<g font-size="15" text-anchor="middle">
<text x="72" y="753">NK marker</text>
<text x="316" y="753">NK receptors (NKRs)</text>
<text x="757" y="753">Cytokines and cytotoxic molecules</text>
</g>
<g stroke="#555" stroke-width="1.5"><line x1="24" y1="762" x2="117" y2="762"/><line x1="121" y1="762" x2="510" y2="762"/><line x1="515" y1="762" x2="997" y2="762"/></g>
<polyline class="hr" transform="translate(25,815)" points="0,0 0,-1 14,-3 28,-5 41,-9 51,-12 55,-18 60,-33 64,-41 69,-33 74,-14 78,-4 83,-1 92,0"/>
<polyline class="hr" transform="translate(123,815)" points="0,0 28,-1 41,-3 51,-5 57,-7 62,-16 65,-31 69,-41 73,-31 76,-14 80,-4 85,-1 92,0"/>
<polyline class="hr" transform="translate(221,815)" points="0,0 46,-1 57,-2 62,-8 64,-21 68,-41 72,-21 75,-8 78,-1 92,0"/>
<polyline class="hr" transform="translate(319,815)" points="0,-1 14,-2 28,-5 37,-10 43,-20 48,-24 52,-25 56,-35 59,-41 63,-35 66,-20 70,-8 74,-2 83,0 92,0"/>
<polyline class="hr" transform="translate(417,815)" points="0,0 18,-2 32,-5 41,-8 48,-18 52,-31 55,-41 59,-32 63,-18 66,-7 72,-2 78,0 92,0"/>
<polyline class="hr" transform="translate(515,815)" points="0,0 9,0 23,-3 32,-7 39,-14 44,-29 50,-41 55,-30 61,-16 66,-6 74,-1 83,0 92,0"/>
<polyline class="hr" transform="translate(612,815)" points="0,0 37,-1 46,-2 53,-6 57,-18 60,-33 63,-41 65,-33 68,-18 72,-6 76,-1 92,0"/>
<polyline class="hr" transform="translate(709,815)" points="0,-1 14,-4 28,-10 37,-17 42,-29 48,-41 53,-30 59,-17 64,-9 74,-5 83,-2 92,-1"/>
<polyline class="hr" transform="translate(807,815)" points="0,-1 9,-4 18,-6 28,-8 35,-18 41,-25 48,-20 53,-22 61,-34 68,-41 75,-30 83,-12 89,-3 92,0"/>
<polyline class="hr" transform="translate(906,815)" points="0,0 14,-2 23,-10 32,-20 41,-20 46,-18 51,-27 60,-31 69,-41 75,-39 81,-41 86,-25 90,-10 92,-6 92,0"/>
<polyline class="hb" transform="translate(25,857)" points="0,0 18,-1 28,-6 35,-10 40,-21 46,-38 52,-23 57,-6 63,-1 92,0"/>
<polyline class="hb" transform="translate(123,857)" points="0,0 9,-1 18,-4 28,-9 35,-21 41,-33 48,-28 53,-26 58,-32 63,-38 67,-28 72,-11 78,-2 92,0"/>
<polyline class="hb" transform="translate(221,857)" points="0,0 46,-1 53,-4 57,-14 59,-28 62,-38 65,-28 67,-14 71,-2 92,0"/>
<polyline class="hb" transform="translate(319,857)" points="0,-5 6,-9 11,-14 17,-15 22,-23 29,-38 34,-23 40,-8 46,-2 55,0 92,0"/>
<polyline class="hb" transform="translate(417,857)" points="0,0 18,-4 28,-10 37,-13 41,-25 45,-38 49,-28 52,-15 57,-4 64,0 92,0"/>
<polyline class="hb" transform="translate(515,857)" points="0,0 14,-1 23,-7 29,-24 35,-38 40,-23 46,-10 55,-5 66,-3 78,0 92,0"/>
<polyline class="hb" transform="translate(612,857)" points="0,-4 9,-10 18,-13 28,-15 35,-21 40,-30 43,-38 48,-30 52,-17 57,-6 64,-1 92,0"/>
<polyline class="hb" transform="translate(709,857)" points="0,0 14,-2 23,-6 32,-8 39,-15 42,-27 46,-38 50,-27 53,-13 58,-4 64,0 92,0"/>
<polyline class="hb" transform="translate(807,857)" points="0,-2 9,-8 18,-11 26,-11 32,-17 37,-30 40,-38 46,-23 52,-8 57,-2 64,-1 74,-3 83,-1 92,0"/>
<polyline class="hb" transform="translate(906,857)" points="0,0 9,-2 18,-6 26,-8 31,-19 38,-38 44,-21 51,-6 57,-1 64,0 92,0"/>
<g stroke="#e03a25" stroke-width="2"><path d="M25.5,795V815M122.5,795V815M220.5,795V815M318.5,795V815M417.5,795V815M515.5,795V815M612.5,795V815M709.5,795V815M807.5,795V815M905.5,795V815"/></g>
<g stroke="#1a28c8" stroke-width="2"><path d="M25.5,838V857M122.5,838V857M220.5,838V857M318.5,838V857M417.5,838V857M515.5,838V857M612.5,838V857M709.5,838V857M807.5,838V857M905.5,838V857"/></g>
<g stroke="#888" stroke-width="1" fill="none">
<path d="M80,792H114M80,790v4M114,790v4 M178,792H213M178,790v4M213,790v4 M276,792H311M276,790v4M311,790v4 M374,792H409M374,790v4M409,790v4 M472,792H507M472,790v4M507,790v4 M570,792H604M570,790v4M604,790v4 M667,792H701M667,790v4M701,790v4 M764,792H799M764,790v4M799,790v4 M862,792H897M862,790v4M897,790v4 M961,792H996M961,790v4M996,790v4"/>
<path d="M80,837H114M80,835v4M114,835v4 M178,837H213M178,835v4M213,835v4 M276,837H311M276,835v4M311,835v4 M374,837H409M374,835v4M409,835v4 M472,837H507M472,835v4M507,835v4 M570,837H604M570,835v4M604,835v4 M667,837H701M667,835v4M701,835v4 M764,837H799M764,835v4M799,835v4 M862,837H897M862,835v4M897,835v4 M961,837H996M961,835v4M996,835v4"/>
</g>
<g fill="none" stroke="#222" stroke-width="1.5">
<rect x="24" y="769" width="93" height="89"/><rect x="121" y="769" width="95" height="89"/><rect x="219" y="769" width="95" height="89"/><rect x="317" y="769" width="95" height="89"/><rect x="416" y="769" width="94" height="89"/><rect x="514" y="769" width="93" height="89"/><rect x="611" y="769" width="93" height="89"/><rect x="708" y="769" width="94" height="89"/><rect x="806" y="769" width="94" height="89"/><rect x="904" y="769" width="95" height="89"/>
</g>
<g font-size="15" fill="#c8323a">
<text x="28" y="788">66.7</text><text x="125" y="788">92.1</text><text x="223" y="788">99.9</text><text x="321" y="788">56.3</text><text x="420" y="788">52.0</text><text x="518" y="788">78.4</text><text x="615" y="788">97.7</text><text x="712" y="788">27.2</text><text x="810" y="788">60.7</text><text x="908" y="788">73.9</text>
</g>
<g font-size="15" fill="#2a3aa0">
<text x="28" y="833">2.44</text><text x="125" y="833">39.3</text><text x="223" y="833">90.5</text><text x="321" y="833">0.88</text><text x="420" y="833">3.11</text><text x="518" y="833">15.8</text><text x="615" y="833">23.5</text><text x="712" y="833">12.2</text><text x="810" y="833">8.34</text><text x="908" y="833">18.6</text>
</g>
<text transform="translate(19,826) rotate(-90)" font-size="15.5" text-anchor="middle">Cell count</text>
<line x1="13" y1="794" x2="13" y2="771" stroke="#000" stroke-width="1.3" marker-end="url(#ahs)"/>
<g font-size="15.5" text-anchor="middle">
<text x="1040" y="797" fill="#c8323a"><tspan font-size="10" dy="-6">Allo15</tspan><tspan dy="6">MCAR</tspan></text>
<text x="1043" y="817" fill="#c8323a">-NKT</text>
<text x="1040" y="844" fill="#2a3aa0">MCAR-T</text>
</g>
<g font-size="15.5">
<text x="22" y="891">CD56</text><text x="121" y="891">NKG2D</text><text x="220" y="891">DNAM-1</text><text x="315" y="891">NKp30</text><text x="417" y="891">NKp46</text><text x="514" y="891">IFN-γ</text><text x="612" y="891">TNF-α</text><text x="711" y="891">IL-2</text><text x="807" y="891">Perforin</text><text x="894" y="891">Granzyme B</text>
</g>
<g stroke="#000" stroke-width="1.3">
<line x1="66" y1="885" x2="116" y2="885" marker-end="url(#ahs)"/>
<line x1="178" y1="885" x2="217" y2="885" marker-end="url(#ahs)"/>
<line x1="282" y1="885" x2="314" y2="885" marker-end="url(#ahs)"/>
<line x1="365" y1="885" x2="411" y2="885" marker-end="url(#ahs)"/>
<line x1="470" y1="885" x2="511" y2="885" marker-end="url(#ahs)"/>
<line x1="557" y1="885" x2="606" y2="885" marker-end="url(#ahs)"/>
<line x1="660" y1="885" x2="706" y2="885" marker-end="url(#ahs)"/>
<line x1="744" y1="885" x2="801" y2="885" marker-end="url(#ahs)"/>
<line x1="867" y1="885" x2="892" y2="885" marker-end="url(#ahs)"/>
<line x1="983" y1="885" x2="1010" y2="885" marker-end="url(#ahs)"/>
</g>

<!-- ================= PANEL K ================= -->
<text x="4" y="925" font-size="22" font-weight="bold">K</text>
<g font-size="15.5" text-anchor="middle">
<text x="109" y="920">NK</text><text x="109" y="940">signature</text>
<text x="205" y="920">T</text><text x="205" y="940">signature</text>
<text x="309" y="920">Cytotoxic</text><text x="309" y="940">signature</text>
<text x="413" y="920">Proliferating</text><text x="413" y="940">signature</text>
<text x="516" y="920">Effector</text><text x="516" y="940">signature</text>
<text transform="translate(28,982) rotate(-90)" font-size="16">Expression</text>
<text transform="translate(42,982) rotate(-90)" font-size="16">level</text>
<text transform="translate(28,1190) rotate(-90)" font-size="16">Expression</text>
<text transform="translate(42,1190) rotate(-90)" font-size="16">level</text>
<text x="153" y="1090">NKRs</text>
<text x="415" y="1090">Cytotoxic molecules</text>
</g>
<g stroke="#222" stroke-width="1.3"><line x1="73" y1="1098" x2="235" y2="1098"/><line x1="278" y1="1098" x2="547" y2="1098"/></g>
<g font-size="16" font-style="italic" text-anchor="middle">
<text x="107" y="1121">CD226</text><text x="204" y="1121">NCR3</text><text x="307" y="1121">GZMB</text><text x="411" y="1121">PRF1</text><text x="507" y="1121">GNLY</text>
</g>
<g stroke="#333" stroke-width="1.2" fill="none">
<path d="M71,950V1062H140 M68,958h3M68,988h3M68,1020h3M68,1051h3 M90,1062v4M122,1062v4"/>
<path d="M169,950V1062H240 M166,952h3M166,983h3M166,1013h3M166,1044h3 M189,1062v4M222,1062v4"/>
<path d="M269,950V1062H349 M266,987h3M266,1032h3 M291,1062v4M327,1062v4"/>
<path d="M373,950V1062H449 M370,973h3M370,1005h3M370,1037h3 M395,1062v4M429,1062v4"/>
<path d="M473,950V1062H550 M470,986h3M470,1028h3 M495,1062v4M531,1062v4"/>
<path d="M71,1125V1240H140 M68,1147h3M68,1176h3M68,1206h3M68,1235h3 M91,1240v4M125,1240v4"/>
<path d="M169,1125V1240H240 M166,1142h3M166,1173h3M166,1204h3M166,1235h3 M189,1240v4M222,1240v4"/>
<path d="M269,1125V1240H349 M266,1132h3M266,1153h3M266,1173h3M266,1194h3M266,1214h3M266,1235h3 M291,1240v4M329,1240v4"/>
<path d="M371,1125V1240H449 M368,1128h3M368,1155h3M368,1182h3M368,1208h3M368,1235h3 M398,1240v4M431,1240v4"/>
<path d="M469,1125V1240H547 M466,1145h3M466,1175h3M466,1205h3M466,1235h3 M496,1240v4M531,1240v4"/>
</g>
<g font-size="12" fill="#333" text-anchor="end">
<text x="66" y="962">0.2</text><text x="66" y="992">0.1</text><text x="66" y="1024">0.0</text><text x="66" y="1055">-0.1</text>
<text x="164" y="956">0.2</text><text x="164" y="987">0.1</text><text x="164" y="1017">0.0</text><text x="164" y="1048">-0.1</text>
<text x="264" y="991">1</text><text x="264" y="1036">0</text>
<text x="368" y="977">0.8</text><text x="368" y="1009">0.4</text><text x="368" y="1041">0.0</text>
<text x="468" y="990">0.5</text><text x="468" y="1032">0.0</text>
<text x="66" y="1151">3</text><text x="66" y="1180">2</text><text x="66" y="1210">1</text><text x="66" y="1239">0</text>
<text x="164" y="1146">3</text><text x="164" y="1177">2</text><text x="164" y="1208">1</text><text x="164" y="1239">0</text>
<text x="264" y="1136">5</text><text x="264" y="1157">4</text><text x="264" y="1177">3</text><text x="264" y="1198">2</text><text x="264" y="1218">1</text><text x="264" y="1239">0</text>
<text x="366" y="1132">4</text><text x="366" y="1159">3</text><text x="366" y="1186">2</text><text x="366" y="1212">1</text><text x="366" y="1239">0</text>
<text x="464" y="1149">6</text><text x="464" y="1179">4</text><text x="464" y="1209">2</text><text x="464" y="1239">0</text>
</g>
<g fill="#ee1414" stroke="#6a0808" stroke-width="0.8">
<use href="#v1r" transform="translate(90,0)"/><use href="#v1r" transform="translate(90,0) scale(-1,1)"/>
<use href="#v2r" transform="translate(189,0)"/><use href="#v2r" transform="translate(189,0) scale(-1,1)"/>
<use href="#v3r" transform="translate(291,0)"/><use href="#v3r" transform="translate(291,0) scale(-1,1)"/>
<use href="#v4r" transform="translate(395,0)"/><use href="#v4r" transform="translate(395,0) scale(-1,1)"/>
<use href="#v5r" transform="translate(495,0)"/><use href="#v5r" transform="translate(495,0) scale(-1,1)"/>
<use href="#w1r" transform="translate(91,0)"/><use href="#w1r" transform="translate(91,0) scale(-1,1)"/>
<use href="#w2r" transform="translate(189,0)"/><use href="#w2r" transform="translate(189,0) scale(-1,1)"/>
<use href="#w3r" transform="translate(291,0)"/><use href="#w3r" transform="translate(291,0) scale(-1,1)"/>
<use href="#w4r" transform="translate(398,0)"/><use href="#w4r" transform="translate(398,0) scale(-1,1)"/>
<use href="#w5r" transform="translate(496,0)"/><use href="#w5r" transform="translate(496,0) scale(-1,1)"/>
</g>
<g fill="#1616dc" stroke="#08085a" stroke-width="0.8">
<use href="#v1b" transform="translate(122,0)"/><use href="#v1b" transform="translate(122,0) scale(-1,1)"/>
<use href="#v2b" transform="translate(222,0)"/><use href="#v2b" transform="translate(222,0) scale(-1,1)"/>
<use href="#v3b" transform="translate(327,0)"/><use href="#v3b" transform="translate(327,0) scale(-1,1)"/>
<use href="#v4b" transform="translate(429,0)"/><use href="#v4b" transform="translate(429,0) scale(-1,1)"/>
<use href="#v5b" transform="translate(531,0)"/><use href="#v5b" transform="translate(531,0) scale(-1,1)"/>
<use href="#w1b" transform="translate(125,0)"/><use href="#w1b" transform="translate(125,0) scale(-1,1)"/>
<use href="#w2b" transform="translate(222,0)"/><use href="#w2b" transform="translate(222,0) scale(-1,1)"/>
<use href="#w3b" transform="translate(329,0)"/><use href="#w3b" transform="translate(329,0) scale(-1,1)"/>
<use href="#w4b" transform="translate(431,0)"/><use href="#w4b" transform="translate(431,0) scale(-1,1)"/>
</g>
<g stroke="#111" stroke-width="0.8">
<path d="M90,951V1038 M122,967V1058 M189,965V1038 M222,951V1062 M291,952V1057 M327,962V1057 M395,959V1055 M429,952V1058 M495,951V1055 M531,952V1058"/>
<path d="M91,1132V1236 M125,1137V1236 M189,1127V1236 M222,1142V1236 M291,1127V1236 M329,1132V1236 M398,1127V1236 M431,1137V1236 M496,1137V1236 M531,1150V1236"/>
<path d="M513,1236H549" stroke-width="1.2"/>
</g>
<g fill="#fff" stroke="#111" stroke-width="0.7">
<rect x="87.5" y="999" width="5" height="13"/><rect x="119.5" y="1012" width="5" height="15"/>
<rect x="186.5" y="1005" width="5" height="17"/><rect x="219.5" y="985" width="5" height="15"/>
<rect x="288.5" y="1010" width="5" height="20"/><rect x="324.5" y="1032" width="5" height="16"/>
<rect x="392.5" y="985" width="5" height="37"/><rect x="426.5" y="1015" width="5" height="15"/>
<rect x="492.5" y="995" width="5" height="17"/><rect x="528.5" y="1000" width="5" height="20"/>
<rect x="88.5" y="1195" width="5" height="20"/><rect x="122.5" y="1200" width="5" height="36"/>
<rect x="186.5" y="1180" width="5" height="30"/><rect x="219.5" y="1206" width="5" height="30"/>
<rect x="288.5" y="1195" width="5" height="28"/><rect x="326.5" y="1214" width="5" height="22"/>
<rect x="395.5" y="1195" width="5" height="27"/><rect x="428.5" y="1212" width="5" height="24"/>
<rect x="493.5" y="1180" width="5" height="30"/>
</g>
<g stroke="#111" stroke-width="1">
<path d="M87.5,1005h5M119.5,1020h5M186.5,1013h5M219.5,992h5M288.5,1022h5M324.5,1040h5M392.5,1000h5M426.5,1022h5M492.5,1003h5M528.5,1010h5"/>
<path d="M88.5,1205h5M122.5,1212h5M186.5,1195h5M288.5,1210h5M395.5,1210h5M493.5,1191h5"/>
</g>
<rect x="145" y="1260" width="15" height="12" fill="#e21818" stroke="#6a0a0a" stroke-width="1"/>
<text x="171" y="1272" font-size="16" fill="#d8303a"><tspan font-size="10" dy="-6">Allo15</tspan><tspan dy="6">MCAR-NKT</tspan></text>
<rect x="344" y="1260" width="16" height="12" fill="#1818d8" stroke="#0a0a5a" stroke-width="1"/>
<text x="371" y="1272" font-size="16" fill="#2a4ab0">MCAR-T</text>

<!-- ================= PANEL L ================= -->
<text x="577" y="925" font-size="22" font-weight="bold">L</text>
<text x="830" y="939" font-size="15.5" text-anchor="middle"><tspan fill="#d03030" font-size="10" dy="-6">Allo15</tspan><tspan fill="#d03030" dy="6">MCAR-NKT</tspan> versus <tspan fill="#2a4ab0">MCAR-T</tspan></text>
<g fill="#f47878">
<rect x="592" y="960" width="364" height="24"/>
<rect x="592" y="992" width="330" height="25"/>
<rect x="592" y="1024" width="234" height="25"/>
<rect x="592" y="1057" width="176" height="25"/>
<rect x="592" y="1089" width="174" height="25"/>
<rect x="592" y="1122" width="149" height="24"/>
<rect x="592" y="1154" width="127" height="24"/>
<rect x="592" y="1186" width="105" height="25"/>
</g>
<g font-size="15.3" fill="#2a1c1c">
<text x="597" y="978">GO:1903047 mitotic cell cycle process</text>
<text x="597" y="1010">GO:0051301 cell division</text>
<text x="597" y="1042">GO:0002263 cell activation involved in immune response</text>
<text x="597" y="1075">GO:0046034 ATP metabolic process</text>
<text x="597" y="1107">GO:0046649 lymphocyte activation</text>
<text x="597" y="1140">GO:0042110 T cell activation</text>
<text x="597" y="1172">GO:0006996 organelle organization</text>
<text x="597" y="1204">GO:0010604 positive regulation of macromolecule metabolic process</text>
</g>
<g stroke="#222" stroke-width="1.8" fill="none">
<path d="M592,945 L592,1225 L1063,1225"/>
<path d="M592,1225v6M709,1225v6M826,1225v6M944,1225v6M1063,1225v6"/>
</g>
<g font-size="16" text-anchor="middle">
<text x="592" y="1248">0</text><text x="709" y="1248">2</text><text x="826" y="1248">4</text><text x="944" y="1248">6</text><text x="1062" y="1248">8</text>
<text x="826" y="1271" font-size="15.5">Fold enrichment</text>
</g>
</svg>
</body></html>
